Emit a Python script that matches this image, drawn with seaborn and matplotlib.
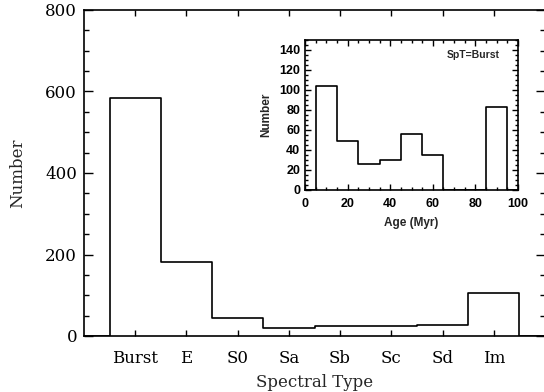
import numpy as np
import pandas as pd
import matplotlib
matplotlib.use("Agg")
import matplotlib.pyplot as plt
import seaborn as sns
from matplotlib.ticker import MultipleLocator

# ---- data ----
spectral_types = ["Burst", "E", "S0", "Sa", "Sb", "Sc", "Sd", "Im"]
type_counts = [583, 181, 43, 20, 25, 24, 27, 105]

age_bin_centers = [10, 20, 30, 40, 50, 60, 70, 80, 90]
age_counts = [104, 49, 26, 30, 56, 35, 0, 0, 83]

main_yticks = [0, 200, 400, 600, 800]
inset_xticks = [0, 20, 40, 60, 80, 100]
inset_yticks = [0, 20, 40, 60, 80, 100, 120, 140]

sns.set_theme(style="ticks")
plt.rcParams["font.family"] = ["DejaVu Serif"]

W, H = 544, 392
fig = plt.figure(figsize=(W / 100, H / 100), dpi=100)
fig.patch.set_facecolor("white")

# ---- main axes ----
ax = fig.add_axes([84 / W, 1 - 336 / H, (545 - 84) / W, (336 - 10) / H])
positions = np.arange(1, len(spectral_types) + 1)
main_df = pd.DataFrame({"pos": positions, "count": type_counts})
main_bins = [float(b) for b in np.arange(-0.5, len(spectral_types) + 2, 1)]
sns.histplot(data=main_df, x="pos", weights="count", bins=main_bins,
             element="step", fill=False, color="black", linewidth=1.2, ax=ax)
ax.set_xlim(0, len(spectral_types) + 1)
ax.set_ylim(0, 800)
ax.set_xticks(positions)
ax.set_xticklabels(spectral_types)
ax.set_yticks(main_yticks)
ax.yaxis.set_minor_locator(MultipleLocator(50))
ax.tick_params(axis="both", which="both", direction="in", top=True, right=True,
               colors="black", width=1.0, labelsize=12)
ax.tick_params(axis="x", which="major", length=4.5, pad=10)
ax.tick_params(axis="y", which="major", length=6.5, pad=5)
ax.tick_params(axis="y", which="minor", length=3.5)
ax.set_xlabel("Spectral Type", fontsize=12, labelpad=5)
ax.set_ylabel("Number", fontsize=12, labelpad=14)
for s in ax.spines.values():
    s.set_linewidth(1.2)
    s.set_color("black")

# ---- inset ----
bold_sans = dict(family="Liberation Sans", weight="bold", size=9)
ax2 = fig.add_axes([305 / W, 1 - 190 / H, (518 - 305) / W, (190 - 40) / H])
age_df = pd.DataFrame({"age": age_bin_centers, "count": age_counts})
age_bins = [float(b) for b in np.arange(-5, 106, 10)]
sns.histplot(data=age_df, x="age", weights="count", bins=age_bins,
             element="step", fill=False, color="black", linewidth=1.2, ax=ax2)
ax2.set_xlim(0, 100)
ax2.set_ylim(0, 150)
ax2.set_xticks(inset_xticks)
ax2.set_yticks(inset_yticks)
ax2.xaxis.set_minor_locator(MultipleLocator(5))
ax2.yaxis.set_minor_locator(MultipleLocator(5))
ax2.tick_params(axis="both", which="both", direction="in", top=True, right=True,
                colors="black", width=1.0)
ax2.tick_params(axis="both", which="major", length=4)
ax2.tick_params(axis="x", which="major", pad=6)
ax2.tick_params(axis="y", which="major", pad=3.5)
ax2.tick_params(axis="both", which="minor", length=2)
for lab in ax2.get_xticklabels() + ax2.get_yticklabels():
    lab.set_fontproperties(matplotlib.font_manager.FontProperties(**bold_sans))
ax2.set_xlabel("Age (Myr)", fontdict=dict(bold_sans, size=8.5), labelpad=5)
ax2.set_ylabel("Number", fontdict=dict(bold_sans, size=8.5), labelpad=5)
ax2.text(0.79, 0.9, "SpT=Burst", transform=ax2.transAxes, ha="center",
         va="center", family="Liberation Sans", weight="bold", size=7.5)
for s in ax2.spines.values():
    s.set_linewidth(1.2)
    s.set_color("black")

fig.savefig("out.png", dpi=100, facecolor="white")
